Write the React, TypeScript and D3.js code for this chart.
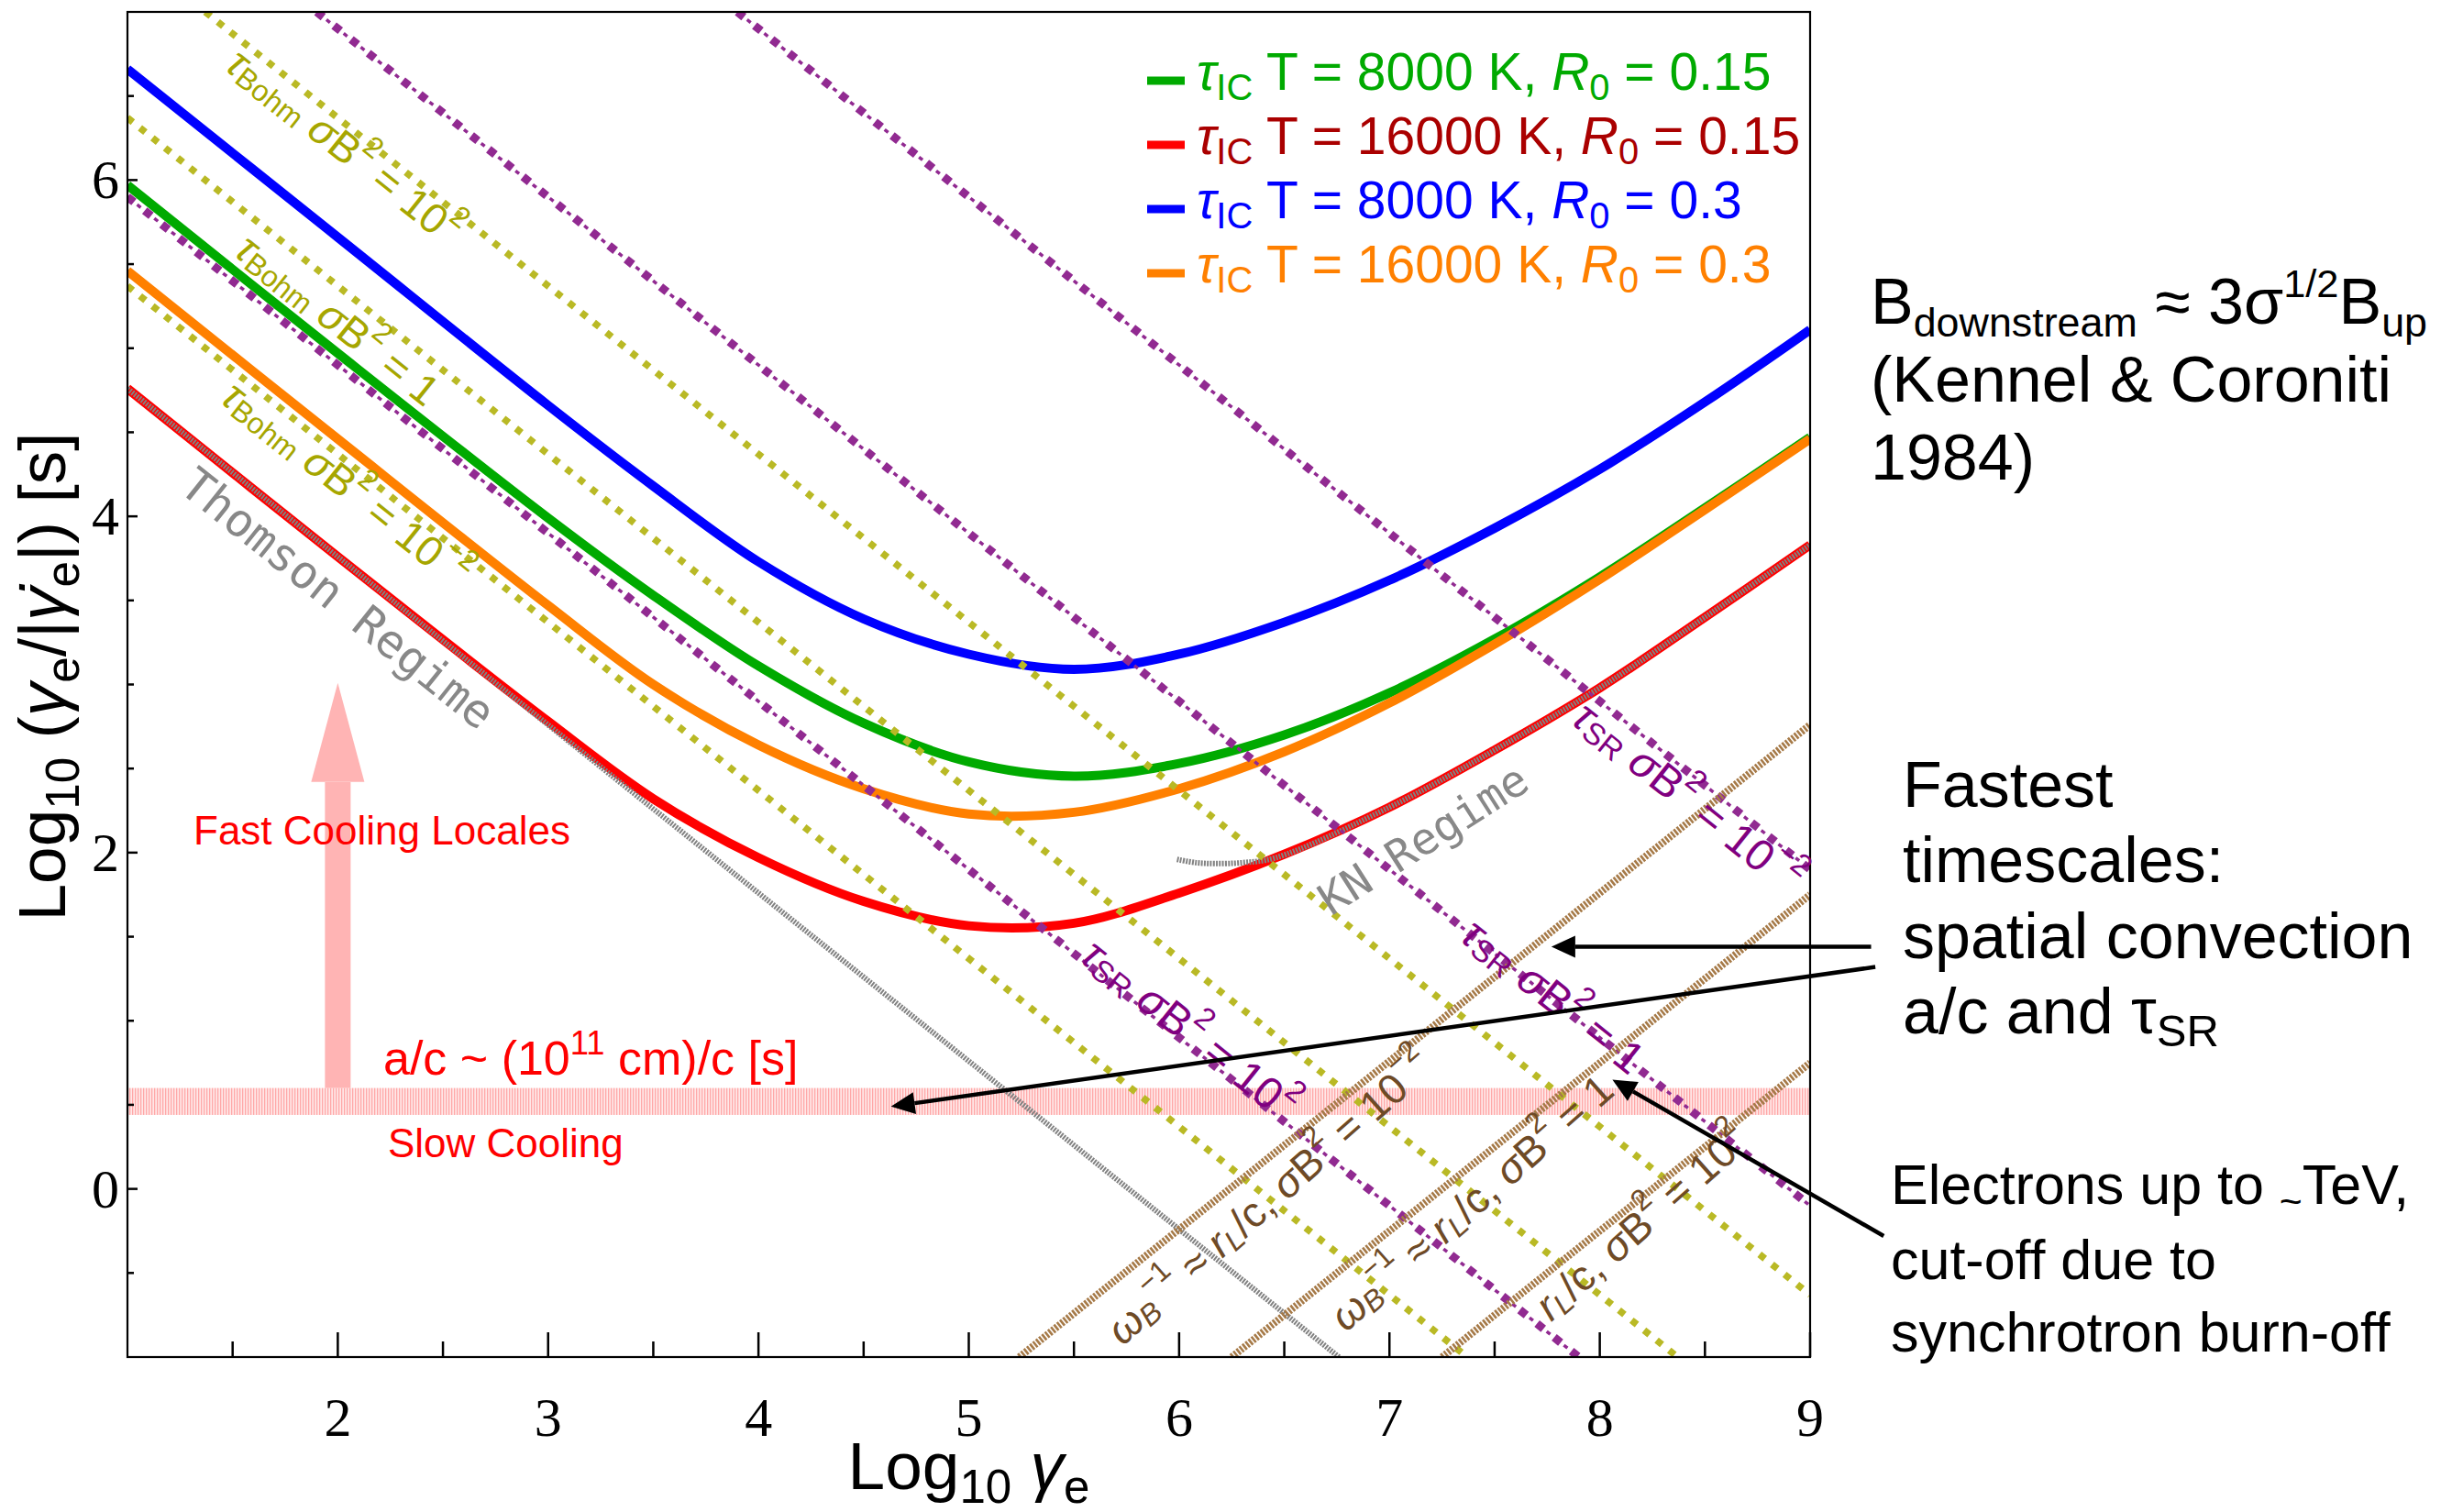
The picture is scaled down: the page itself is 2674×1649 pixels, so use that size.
import React from 'react';
import * as d3 from 'd3';

// ---------- data ----------
const gammaGrid = [1, 2, 3, 3.5, 4, 4.5, 5, 5.5, 6, 6.5, 7, 7.5, 8, 8.5, 9];
const tauGreen = [5.97, 4.97, 3.99, 3.53, 3.11, 2.77, 2.54, 2.455, 2.53, 2.7, 2.95, 3.27, 3.64, 4.05, 4.47];
const tauRed = [4.76, 3.76, 2.78, 2.32, 1.97, 1.71, 1.565, 1.58, 1.76, 1.99, 2.27, 2.61, 2.98, 3.4, 3.83];
const tauBlue = [6.66, 5.66, 4.66, 4.18, 3.73, 3.39, 3.18, 3.09, 3.18, 3.37, 3.62, 3.93, 4.28, 4.68, 5.11];
const tauOrange = [5.46, 4.46, 3.47, 3.0, 2.64, 2.38, 2.23, 2.24, 2.38, 2.6, 2.89, 3.24, 3.625, 4.04, 4.46];

const knGamma = [5.99, 6.08, 6.17, 6.3, 6.46, 7, 7.5, 8, 8.5, 9];
const knTau = [1.96, 1.94, 1.935, 1.94, 1.97, 2.27, 2.61, 2.98, 3.4, 3.83];

const thomsonGamma = [1, 6.76];
const thomsonTau = [4.76, -1];

// Bohm lines (sigma B^2 = 10^2, 1, 10^-2)
const bohmExp = ['2', '', '-2'];
const bohmGamma = [[1.37, 9], [1, 8.37], [1, 7.37]];
const bohmTau = [[7, -0.63], [6.37, -1], [5.37, -1]];

// synchrotron lines tau_SR (sigma B^2 = 10^2, 1, 10^-2)
const srExp = ['2', '', '-2'];
const srGamma = [[1, 7.9], [1.9, 9], [3.9, 9]];
const srTau = [[5.9, -1], [7, -0.1], [7, 1.9]];

// gyro lines r_L/c (sigma B^2 = 10^-2, 1, 10^2)
const larmorExp = ['-2', '', '2'];
const larmorGamma = [[5.24, 9], [6.25, 9], [7.25, 9]];
const larmorTau = [[-1, 2.76], [-1, 1.75], [-1, 0.75]];

const acBand = [0.44, 0.6];

const xTicksMajor = [2, 3, 4, 5, 6, 7, 8, 9];
const yTicksMajor = [0, 2, 4, 6];

const legendTemps = ['8000', '16000', '8000', '16000'];
const legendR0 = ['0.15', '0.15', '0.3', '0.3'];

// ---------- layout ----------
const W = 2674, H = 1649;
const L = 139, R = 1974, T = 13, B = 1480;
const x = d3.scaleLinear().domain([1, 9]).range([L, R]);
const y = d3.scaleLinear().domain([-1, 7]).range([B, T]);
const ANG = (Math.atan2(y(0) - y(1), x(1) - x(0)) * 180) / Math.PI;

const SANS = 'Liberation Sans, Arial, Helvetica, sans-serif';
const SERIF = 'Liberation Serif, Times New Roman, serif';
const MONO = 'DejaVu Sans Mono, monospace';

const C = {
  green: '#00aa00', red: '#ff0000', blue: '#0000ff', orange: '#ff8000',
  redText: '#aa0000',
  bohm: '#b9b925', bohmText: '#a6a600',
  sr: '#912a91', srText: '#800080',
  lar: '#a67a48', larText: '#6e4a26',
  gray: '#828282', grayText: '#888888',
  pink: '#ffb4b4',
};

type Seg = { t: string; s?: 'sub' | 'sup'; i?: boolean; k?: number };
function Rich({ segs, fs }: { segs: Seg[]; fs: number }) {
  let prev = 0;
  return (
    <>
      {segs.map((g, idx) => {
        const shift = g.s === 'sub' ? 0.2 * fs : g.s === 'sup' ? -0.42 * fs : 0;
        const dy = shift - prev;
        prev = shift;
        const k = g.k ?? 0.7;
        return (
          <tspan key={idx} dy={dy} fontSize={g.s ? fs * k : fs} fontStyle={g.i ? 'italic' : 'normal'}>
            {g.t}
          </tspan>
        );
      })}
    </>
  );
}

const sigmaSegs = (e: string): Seg[] =>
  e === ''
    ? [{ t: ' ' }, { t: 'σ', i: true }, { t: 'B' }, { t: '2', s: 'sup' }, { t: ' = 1' }]
    : [{ t: ' ' }, { t: 'σ', i: true }, { t: 'B' }, { t: '2', s: 'sup' }, { t: ' = 10' }, { t: e.replace('-', '−'), s: 'sup' }];

const curveLine = d3
  .line<[number, number]>()
  .x((d) => x(d[0]))
  .y((d) => y(d[1]))
  .curve(d3.curveCatmullRom.alpha(0.5));
const straight = d3
  .line<[number, number]>()
  .x((d) => x(d[0]))
  .y((d) => y(d[1]));

const zip = (a: number[], b: number[]) => a.map((v, i) => [v, b[i]] as [number, number]);

// label anchor positions (data units)
const bohmLabelPos = [[2.03, 6.2], [2.0, 5.17], [2.04, 4.19]];
const srLabelPos = [[6.05, 0.95], [7.78, 1.15], [8.42, 2.33]];
const larLabelPos = [[6.43, -0.05], [7.39, -0.08], [8.2, -0.2]];

function Arrow({ from, to, w = 4.5 }: { from: number[]; to: number[]; w?: number }) {
  const x1 = x(from[0]), y1 = y(from[1]), x2 = x(to[0]), y2 = y(to[1]);
  const a = Math.atan2(y2 - y1, x2 - x1);
  const len = 26, hw = 12;
  const bx = x2 - len * Math.cos(a), by = y2 - len * Math.sin(a);
  const px = -Math.sin(a) * hw, py = Math.cos(a) * hw;
  return (
    <g>
      <line x1={x1} y1={y1} x2={bx} y2={by} stroke="#000" strokeWidth={w} />
      <polygon points={`${x2},${y2} ${bx + px},${by + py} ${bx - px},${by - py}`} fill="#000" />
    </g>
  );
}

const arrowFrom = [[9.29, 1.44], [9.31, 1.32], [9.35, -0.28]];
const arrowTo = [[7.77, 1.44], [4.63, 0.49], [8.06, 0.65]];

export default function App() {
  const curves = [
    { d: tauBlue, c: C.blue },
    { d: tauGreen, c: C.green },
    { d: tauOrange, c: C.orange },
    { d: tauRed, c: C.red },
  ];
  const legendColors = [C.green, C.red, C.blue, C.orange];
  const legendText = [C.green, C.redText, C.blue, C.orange];

  const xMinor = d3.range(1.5, 9, 1);
  const yMinor = d3.range(-0.5, 7, 0.5).filter((v) => !yTicksMajor.includes(v));

  const ax = x(2);
  const shaftW = 28, headW = 58;
  return (
    <svg width={W} height={H} style={{ position: 'absolute', left: 0, top: 0, background: '#fff' }} fontFamily={SANS}>
      <defs>
        <clipPath id="plot">
          <rect x={L} y={T} width={R - L} height={B - T} />
        </clipPath>
        <pattern id="hatch" width="3" height="20" patternUnits="userSpaceOnUse">
          <rect width="3" height="20" fill="#ffe8e8" />
          <rect width="1.3" height="20" fill="#ffa8a8" />
        </pattern>
      </defs>
      <rect width={W} height={H} fill="#fff" />

      <g clipPath="url(#plot)">
        <rect x={L} width={R - L} y={y(acBand[1])} height={y(acBand[0]) - y(acBand[1])} fill="url(#hatch)" />
        <rect x={ax - shaftW / 2} width={shaftW} y={y(2.42)} height={y(acBand[1]) - y(2.42)} fill={C.pink} />
        <polygon points={`${ax},${y(3.01)} ${ax - headW / 2},${y(2.42)} ${ax + headW / 2},${y(2.42)}`} fill={C.pink} />

        {curves.map((cv, i) => (
          <path key={i} d={curveLine(zip(gammaGrid, cv.d)) || ''} fill="none" stroke={cv.c} strokeWidth={10} />
        ))}
        <path d={straight(zip(thomsonGamma, thomsonTau)) || ''} fill="none" stroke={C.gray} strokeWidth={6} strokeDasharray="2 1.3" />
        <path d={curveLine(zip(knGamma, knTau)) || ''} fill="none" stroke={C.gray} strokeWidth={6} strokeDasharray="2 1.3" />

        {bohmGamma.map((g, i) => (
          <path key={'b' + i} d={straight(zip(g, bohmTau[i])) || ''} fill="none" stroke={C.bohm} strokeWidth={7.5} strokeDasharray="7.5 10" />
        ))}
        {srGamma.map((g, i) => (
          <g key={'s' + i}>
            <path d={straight(zip(g, srTau[i])) || ''} fill="none" stroke={C.sr} strokeWidth={9} strokeDasharray="9 15" />
            <path d={straight(zip(g, srTau[i])) || ''} fill="none" stroke={C.sr} strokeWidth={3.5} strokeDasharray="0 13.5 5 5.5" />
          </g>
        ))}
        {larmorGamma.map((g, i) => (
          <path key={'l' + i} d={straight(zip(g, larmorTau[i])) || ''} fill="none" stroke={C.lar} strokeWidth={8} strokeDasharray="2.6 1.6" />
        ))}
      </g>

      <rect x={L} y={T} width={R - L} height={B - T} fill="none" stroke="#000" strokeWidth={2.2} />
      {xTicksMajor.map((v) => (
        <line key={'xt' + v} x1={x(v)} x2={x(v)} y1={B} y2={B - 27} stroke="#000" strokeWidth={2.5} />
      ))}
      {xMinor.map((v) => (
        <line key={'xm' + v} x1={x(v)} x2={x(v)} y1={B} y2={B - 17} stroke="#000" strokeWidth={2.5} />
      ))}
      {yTicksMajor.map((v) => (
        <line key={'yt' + v} x1={L} x2={L + 11} y1={y(v)} y2={y(v)} stroke="#000" strokeWidth={2.5} />
      ))}
      {yMinor.map((v) => (
        <line key={'ym' + v} x1={L} x2={L + 7} y1={y(v)} y2={y(v)} stroke="#000" strokeWidth={2.5} />
      ))}
      {xTicksMajor.map((v) => (
        <text key={'xl' + v} x={x(v)} y={1566} fontFamily={SERIF} fontSize={60} textAnchor="middle">
          {v}
        </text>
      ))}
      {yTicksMajor.map((v) => (
        <text key={'yl' + v} x={130} y={y(v) + 20} fontFamily={SERIF} fontSize={60} textAnchor="end">
          {v}
        </text>
      ))}

      <text x={x(5)} y={1624} fontSize={73} textAnchor="middle" style={{ whiteSpace: 'pre' }}>
        <Rich fs={73} segs={[{ t: 'Log' }, { t: '10', s: 'sub' }, { t: ' ' }, { t: 'γ', i: true }, { t: 'e', s: 'sub' }]} />
      </text>
      <text transform={`translate(71,${738}) rotate(-90)`} fontSize={73} textAnchor="middle" style={{ whiteSpace: 'pre' }}>
        <Rich
          fs={73}
          segs={[
            { t: 'Log' }, { t: '10', s: 'sub' }, { t: ' (' }, { t: 'γ', i: true }, { t: 'e', s: 'sub' },
            { t: '/|' }, { t: 'γ̇', i: true }, { t: 'e', s: 'sub' }, { t: '|) [s]' },
          ]}
        />
      </text>

      {bohmLabelPos.map((p, i) => (
        <text key={'bl' + i} transform={`translate(${x(p[0])},${y(p[1])}) rotate(${ANG})`} textAnchor="middle" dominantBaseline="central" fill={C.bohmText} fontSize={46} style={{ whiteSpace: 'pre' }}>
          <Rich fs={46} segs={[{ t: 'τ', i: true }, { t: 'Bohm', s: 'sub' }, ...sigmaSegs(bohmExp[i])]} />
        </text>
      ))}
      {srLabelPos.map((p, i) => (
        <text key={'sl' + i} transform={`translate(${x(p[0])},${y(p[1])}) rotate(${ANG})`} textAnchor="middle" dominantBaseline="central" fill={C.srText} fontSize={48} style={{ whiteSpace: 'pre' }}>
          <Rich fs={48} segs={[{ t: 'τ', i: true }, { t: 'SR', s: 'sub' }, ...sigmaSegs(srExp[i])]} />
        </text>
      ))}
      {larLabelPos.map((p, i) => (
        <text key={'ll' + i} transform={`translate(${x(p[0])},${y(p[1])}) rotate(${-41.5})`} textAnchor="middle" dominantBaseline="central" fill={C.larText} fontSize={46} style={{ whiteSpace: 'pre' }}>
          <Rich
            fs={46}
            segs={[
              ...(i < 2 ? ([{ t: 'ω', i: true }, { t: 'B', s: 'sub', i: true }, { t: '−1', s: 'sup' }, { t: ' ≈ ' }] as Seg[]) : []),
              { t: 'r', i: true }, { t: 'L', s: 'sub', i: true }, { t: '/c,' },
              ...sigmaSegs(larmorExp[i]),
            ]}
          />
        </text>
      ))}
      <text transform={`translate(${x(2.0)},${y(3.51)}) rotate(${ANG})`} textAnchor="middle" dominantBaseline="central" fill={C.grayText} fontSize={50} fontFamily={MONO}>
        Thomson Regime
      </text>
      <text transform={`translate(${x(7.16)},${y(2.08)}) rotate(-32.6)`} textAnchor="middle" dominantBaseline="central" fill={C.grayText} fontSize={48} fontFamily={MONO}>
        KN Regime
      </text>

      <text x={211} y={921} fill="#ff0000" fontSize={44}>Fast Cooling Locales</text>
      <text x={418} y={1172} fill="#ff0000" fontSize={52} style={{ whiteSpace: 'pre' }}>
        <Rich fs={52} segs={[{ t: 'a/c ~ (10' }, { t: '11', s: 'sup' }, { t: ' cm)/c [s]' }]} />
      </text>
      <text x={423} y={1262} fill="#ff0000" fontSize={44}>Slow Cooling</text>

      {legendTemps.map((t, i) => {
        const by = 98 + 70 * i;
        return (
          <g key={'lg' + i}>
            <line x1={1251} x2={1292} y1={by - 10} y2={by - 10} stroke={legendColors[i]} strokeWidth={9} />
            <text x={1305} y={by} fill={legendText[i]} fontSize={57} style={{ whiteSpace: 'pre' }}>
              <Rich
                fs={57}
                segs={[
                  { t: 'τ', i: true }, { t: 'IC', s: 'sub' }, { t: ` T = ${t} K, ` },
                  { t: 'R', i: true }, { t: '0', s: 'sub' }, { t: ` = ${legendR0[i]}` },
                ]}
              />
            </text>
          </g>
        );
      })}

      <g fill="#000" style={{ whiteSpace: 'pre' }}>
        <text x={2040} y={353} fontSize={70}>
          <Rich fs={70} segs={[{ t: 'B' }, { t: 'downstream', s: 'sub', k: 0.64 }, { t: ' ≈ 3σ' }, { t: '1/2', s: 'sup', k: 0.62 }, { t: 'B' }, { t: 'up', s: 'sub', k: 0.64 }]} />
        </text>
        <text x={2040} y={438} fontSize={70}>(Kennel &amp; Coroniti</text>
        <text x={2040} y={523} fontSize={70}>1984)</text>

        <text x={2075} y={880} fontSize={70}>Fastest</text>
        <text x={2075} y={962} fontSize={70}>timescales:</text>
        <text x={2075} y={1045} fontSize={70}>spatial convection</text>
        <text x={2075} y={1127} fontSize={70}>
          <Rich fs={70} segs={[{ t: 'a/c and τ' }, { t: 'SR', s: 'sub' }]} />
        </text>

        <text x={2062} y={1313} fontSize={61}>
          <Rich fs={61} segs={[{ t: 'Electrons up to ' }, { t: '~', s: 'sub' }, { t: 'TeV,' }]} />
        </text>
        <text x={2062} y={1395} fontSize={61}>cut-off due to</text>
        <text x={2062} y={1474} fontSize={61}>synchrotron burn-off</text>
      </g>

      {arrowFrom.map((f, i) => (
        <Arrow key={'ar' + i} from={f} to={arrowTo[i]} />
      ))}
    </svg>
  );
}
